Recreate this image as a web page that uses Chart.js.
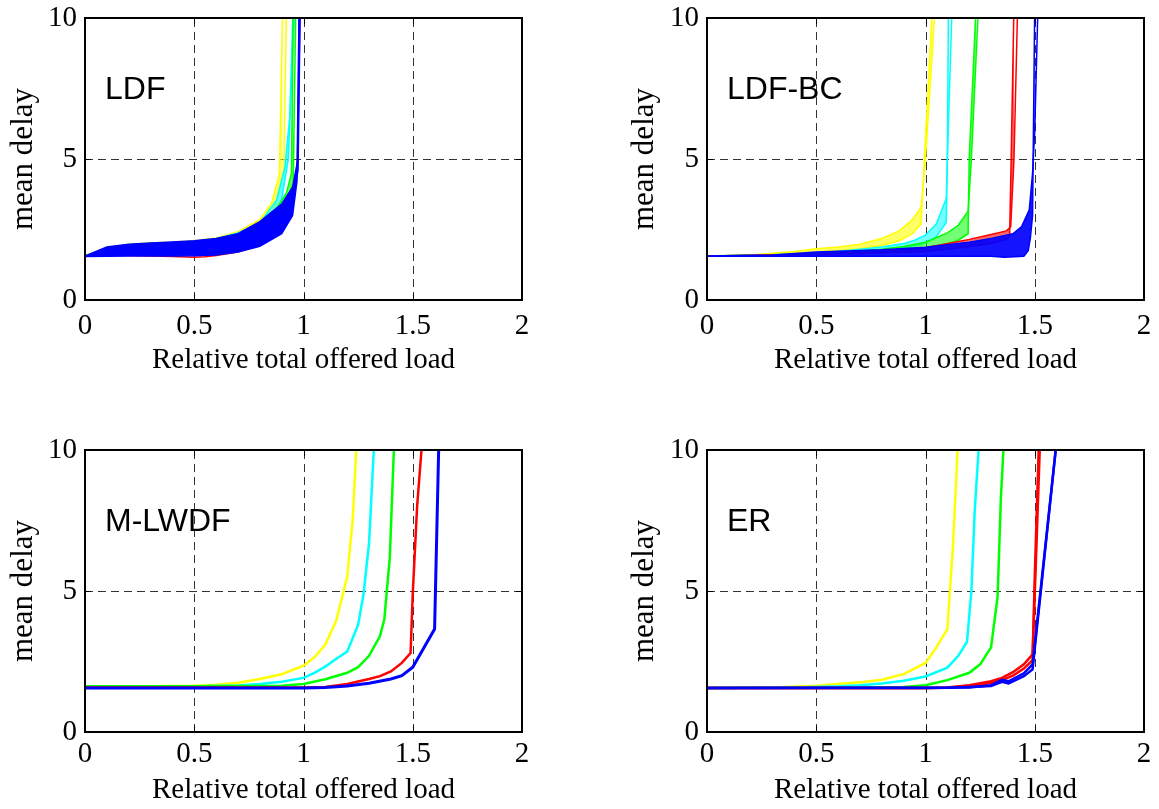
<!DOCTYPE html>
<html>
<head>
<meta charset="utf-8">
<script src="https://cdn.jsdelivr.net/npm/chart.js@4.4.1/dist/chart.umd.min.js"></script>
<style>
  html, body { margin: 0; padding: 0; background: #fff; }
  body { width: 1159px; height: 809px; position: relative; overflow: hidden; }
  canvas { position: absolute; }
</style>
</head>
<body>
<canvas id="c-ldf"></canvas>
<canvas id="c-ldfbc"></canvas>
<canvas id="c-mlwdf"></canvas>
<canvas id="c-er"></canvas>
<script>
// ===== DADOS =====
const xTicks = [0, 0.5, 1, 1.5, 2];
const yTicks = [0, 5, 10];
const xTitle = 'Relative total offered load';
const yTitle = 'mean delay';

// LDF  [load, delay]
const ldfYellowTop = [[0,1.56],[0.1,1.86],[0.2,1.98],[0.3,2.02],[0.4,2.06],[0.5,2.1],[0.6,2.2],[0.7,2.42],[0.8,2.85],[0.855,3.45],[0.89,4.5],[0.905,10.5]];
const ldfYellowBottom = [[0,1.56],[0.1,1.85],[0.2,1.96],[0.3,2.0],[0.4,2.04],[0.5,2.08],[0.6,2.17],[0.7,2.36],[0.8,2.72],[0.87,3.3],[0.91,4.6],[0.922,10.5]];
const ldfCyanTop = [[0,1.56],[0.1,1.85],[0.2,1.96],[0.3,2.0],[0.4,2.04],[0.5,2.08],[0.6,2.17],[0.7,2.38],[0.8,2.72],[0.877,3.55],[0.915,4.7],[0.937,6.5],[0.953,10.5]];
const ldfCyanBottom = [[0,1.56],[0.1,1.84],[0.2,1.95],[0.3,1.99],[0.4,2.03],[0.5,2.07],[0.6,2.15],[0.7,2.33],[0.8,2.62],[0.89,3.1],[0.93,4.97],[0.96,10.5]];
const ldfGreenTop = [[0,1.56],[0.1,1.84],[0.2,1.96],[0.3,2.0],[0.4,2.03],[0.5,2.07],[0.6,2.16],[0.7,2.34],[0.8,2.62],[0.86,3.05],[0.922,3.8],[0.945,4.5],[0.953,10.5]];
const ldfGreenBottom = [[0,1.56],[0.1,1.83],[0.2,1.95],[0.3,1.99],[0.4,2.02],[0.5,2.06],[0.6,2.14],[0.7,2.3],[0.8,2.55],[0.9,3.1],[0.953,4.15],[0.965,10.5]];
const ldfRed = [[0,1.55],[0.1,1.58],[0.2,1.58],[0.3,1.56],[0.4,1.54],[0.5,1.52],[0.55,1.53],[0.6,1.58],[0.7,1.7],[0.8,1.95],[0.9,2.5],[0.95,3.3],[0.972,4.97],[0.985,10.5]];
const ldfBlueTop = [[0,1.56],[0.1,1.88],[0.2,1.98],[0.3,2.02],[0.4,2.06],[0.5,2.1],[0.6,2.18],[0.7,2.35],[0.8,2.78],[0.9,3.4],[0.95,4.0],[0.975,5.0],[0.98,10.5]];
const ldfBlueMid = [[0,1.55],[0.1,1.7],[0.2,1.78],[0.3,1.8],[0.4,1.83],[0.5,1.85],[0.6,1.9],[0.7,2.05],[0.8,2.35],[0.9,2.85],[0.95,3.45],[0.975,4.6],[0.985,10.5]];
const ldfBlueBottom = [[0,1.54],[0.1,1.55],[0.2,1.56],[0.3,1.56],[0.4,1.56],[0.5,1.57],[0.6,1.6],[0.7,1.7],[0.8,1.9],[0.9,2.35],[0.95,3.0],[0.97,4.2],[0.98,10.5]];

// LDF-BC
const bcYellowTop = [[0,1.56],[0.2,1.6],[0.4,1.72],[0.5,1.82],[0.6,1.88],[0.7,1.98],[0.8,2.18],[0.88,2.45],[0.94,2.85],[0.98,3.3],[1.0,5.0],[1.045,10.5]];
const bcYellowBottom = [[0,1.56],[0.2,1.58],[0.4,1.64],[0.5,1.7],[0.6,1.76],[0.7,1.82],[0.8,1.93],[0.88,2.1],[0.94,2.35],[0.98,2.7],[0.995,5.0],[1.032,10.5]];
const bcCyanTop = [[0,1.56],[0.3,1.6],[0.5,1.66],[0.7,1.8],[0.8,1.88],[0.9,2.0],[0.95,2.12],[1.0,2.3],[1.05,2.7],[1.095,3.6],[1.1,5.0],[1.122,10.5]];
const bcCyanBottom = [[0,1.56],[0.3,1.57],[0.5,1.6],[0.7,1.68],[0.8,1.74],[0.9,1.84],[0.95,1.92],[1.0,2.03],[1.05,2.25],[1.095,2.75],[1.1,5.0],[1.105,10.5]];
const bcGreenTop = [[0,1.56],[0.5,1.64],[0.8,1.8],[0.9,1.9],[1.0,2.05],[1.1,2.38],[1.15,2.65],[1.195,3.15],[1.21,5.0],[1.243,10.5]];
const bcGreenBottom = [[0,1.56],[0.5,1.6],[0.8,1.7],[0.9,1.76],[1.0,1.85],[1.1,2.0],[1.15,2.12],[1.195,2.35],[1.2,5.0],[1.232,10.5]];
const bcRedTop = [[0,1.56],[0.5,1.62],[0.8,1.72],[1.0,1.85],[1.2,2.15],[1.3,2.32],[1.37,2.45],[1.39,2.6],[1.405,5.0],[1.422,10.5]];
const bcRedBottom = [[0,1.56],[0.5,1.6],[1.0,1.72],[1.2,1.9],[1.3,2.0],[1.37,2.15],[1.385,2.3],[1.392,5.0],[1.405,10.5]];
const bcBlueTop = [[0,1.56],[0.3,1.6],[0.5,1.7],[0.8,1.78],[1.0,1.87],[1.2,2.05],[1.3,2.18],[1.4,2.35],[1.44,2.6],[1.475,3.2],[1.49,4.5],[1.5,6.0],[1.515,10.5]];
const bcBlueBottom = [[0,1.55],[0.5,1.55],[1.0,1.55],[1.3,1.55],[1.36,1.52],[1.45,1.55],[1.47,1.75],[1.48,2.2],[1.49,3.0],[1.5,10.5]];

// M-LWDF
const mlYellow = [[0,1.6],[0.5,1.64],[0.6,1.68],[0.7,1.75],[0.8,1.88],[0.9,2.05],[1.0,2.35],[1.05,2.65],[1.1,3.1],[1.15,3.95],[1.2,5.5],[1.225,7.5],[1.245,10.5]];
const mlCyan = [[0,1.6],[0.5,1.62],[0.7,1.65],[0.8,1.7],[0.9,1.78],[1.0,1.92],[1.05,2.1],[1.1,2.32],[1.15,2.6],[1.2,2.85],[1.25,3.8],[1.275,4.9],[1.3,6.7],[1.325,10.5]];
const mlGreen = [[0,1.62],[0.5,1.62],[0.9,1.64],[1.0,1.7],[1.1,1.87],[1.2,2.1],[1.25,2.3],[1.3,2.7],[1.35,3.4],[1.37,4.0],[1.395,6.2],[1.416,10.5]];
const mlRed = [[0,1.58],[0.9,1.58],[1.0,1.58],[1.1,1.6],[1.2,1.7],[1.3,1.88],[1.35,1.98],[1.4,2.15],[1.45,2.45],[1.49,2.8],[1.5,4.9],[1.52,8.0],[1.545,10.5]];
const mlBlue = [[0,1.56],[1.0,1.56],[1.1,1.58],[1.2,1.63],[1.3,1.73],[1.4,1.88],[1.45,2.0],[1.5,2.3],[1.6,3.65],[1.62,10.5]];

// ER
const erYellow = [[0,1.56],[0.3,1.58],[0.5,1.64],[0.6,1.7],[0.7,1.76],[0.8,1.85],[0.9,2.05],[1.0,2.45],[1.05,3.0],[1.1,3.65],[1.125,6.5],[1.15,10.5]];
const erCyan = [[0,1.56],[0.4,1.58],[0.6,1.62],[0.7,1.66],[0.8,1.72],[0.9,1.82],[1.0,1.97],[1.1,2.28],[1.15,2.7],[1.19,3.2],[1.21,5.0],[1.225,7.8],[1.247,10.5]];
const erGreen = [[0,1.56],[0.6,1.57],[0.9,1.6],[1.0,1.66],[1.1,1.84],[1.2,2.1],[1.25,2.4],[1.3,3.0],[1.33,4.8],[1.345,8.3],[1.36,10.5]];
const erRed = [[0,1.56],[1.0,1.56],[1.1,1.58],[1.2,1.66],[1.3,1.8],[1.35,1.92],[1.4,2.12],[1.45,2.4],[1.49,2.75],[1.505,6.0],[1.525,10.5]];
const erRed2 = [[0,1.56],[1.0,1.56],[1.1,1.57],[1.2,1.63],[1.3,1.74],[1.35,1.84],[1.4,2.0],[1.45,2.25],[1.49,2.55],[1.5,5.5],[1.52,10.5]];
const erBlue = [[0,1.56],[1.0,1.56],[1.1,1.57],[1.2,1.6],[1.3,1.63],[1.35,1.78],[1.38,1.72],[1.45,1.98],[1.49,2.22],[1.6,10.3]];
const erBlue2 = [[0,1.56],[1.2,1.58],[1.3,1.66],[1.35,1.85],[1.38,1.8],[1.45,2.08],[1.49,2.4],[1.6,10.3]];

// ===== CORES =====
const AMARELO = '#ffff00', CIANO = '#00ffff', VERDE = '#00ff00', VERMELHO = '#ff0000', AZUL = '#0000ff';

function linha(pts, cor, largura, fill) {
  return {
    data: pts.map(([x, y]) => ({ x, y })),
    borderColor: cor,
    backgroundColor: cor,
    borderWidth: largura,
    pointRadius: 0,
    tension: 0,
    fill: fill === undefined ? false : fill,
    clip: 0
  };
}

// feixe: linha de cima com preenchimento ate a de baixo
function feixe(lista, cima, baixo, cor, fundo, largura) {
  const idx = lista.length;
  const d = linha(cima, cor, largura, idx + 1);
  d.backgroundColor = fundo;
  lista.push(d);
  lista.push(linha(baixo, cor, largura));
}

// ===== PAINEIS =====
// azul primeiro = desenhado por cima
const dsLdf = [];
feixe(dsLdf, ldfBlueTop, ldfBlueBottom, AZUL, AZUL, 1.5);
dsLdf.push(linha(ldfBlueMid, AZUL, 1.5));
dsLdf.push(linha(ldfRed, VERMELHO, 1.5));
feixe(dsLdf, ldfGreenTop, ldfGreenBottom, VERDE, 'rgba(0,255,0,0.6)', 1.5);
feixe(dsLdf, ldfCyanTop, ldfCyanBottom, CIANO, 'rgba(0,255,255,0.6)', 1.5);
feixe(dsLdf, ldfYellowTop, ldfYellowBottom, AMARELO, 'rgba(255,255,0,0.6)', 1.5);

const dsBc = [];
feixe(dsBc, bcBlueTop, bcBlueBottom, AZUL, 'rgba(0,0,255,0.92)', 1.5);
feixe(dsBc, bcRedTop, bcRedBottom, VERMELHO, 'rgba(255,0,0,0.6)', 1.5);
feixe(dsBc, bcGreenTop, bcGreenBottom, VERDE, 'rgba(0,255,0,0.55)', 1.5);
feixe(dsBc, bcCyanTop, bcCyanBottom, CIANO, 'rgba(0,255,255,0.55)', 1.5);
feixe(dsBc, bcYellowTop, bcYellowBottom, AMARELO, 'rgba(255,255,0,0.6)', 1.5);

const dsMl = [
  linha(mlBlue, AZUL, 3),
  linha(mlRed, VERMELHO, 2.5),
  linha(mlGreen, VERDE, 2.5),
  linha(mlCyan, CIANO, 2.5),
  linha(mlYellow, AMARELO, 2.5)
];

const dsEr = [
  linha(erBlue, AZUL, 2.5),
  linha(erBlue2, AZUL, 2.5),
  linha(erRed, VERMELHO, 2.5),
  linha(erRed2, VERMELHO, 2.5),
  linha(erGreen, VERDE, 2.5),
  linha(erCyan, CIANO, 2.5),
  linha(erYellow, AMARELO, 2.5)
];

const paineis = [
  { id: 'c-ldf',   nome: 'LDF',    ds: dsLdf, left: 0,   top: 0,   w: 580, h: 405, area: [85, 18, 522, 300],   tickPad: 9, titlePad: 27, yTitlePad: 5 },
  { id: 'c-ldfbc', nome: 'LDF-BC', ds: dsBc,  left: 580, top: 0,   w: 579, h: 405, area: [707, 18, 1144, 300], tickPad: 9, titlePad: 27, yTitlePad: 46 },
  { id: 'c-mlwdf', nome: 'M-LWDF', ds: dsMl,  left: 0,   top: 405, w: 580, h: 404, area: [85, 450, 522, 732],  tickPad: 5, titlePad: 1,  yTitlePad: 5 },
  { id: 'c-er',    nome: 'ER',     ds: dsEr,  left: 580, top: 405, w: 579, h: 404, area: [707, 450, 1144, 732], tickPad: 5, titlePad: 1,  yTitlePad: 46 }
];

Chart.defaults.font.family = '"Liberation Serif", "Times New Roman", serif';
Chart.defaults.font.size = 29;
Chart.defaults.color = '#000';

// grade tracejada, moldura e rotulo do painel
const moldura = {
  id: 'moldura',
  beforeDatasetsDraw(chart) {
    const { ctx, chartArea: a, scales: { x, y } } = chart;
    ctx.save();
    ctx.strokeStyle = '#333';
    ctx.lineWidth = 1;
    ctx.setLineDash([8, 5]);
    xTicks.slice(1, -1).forEach(v => {
      const px = Math.round(x.getPixelForValue(v)) + 0.5;
      ctx.beginPath(); ctx.moveTo(px, a.bottom); ctx.lineTo(px, a.top); ctx.stroke();
    });
    yTicks.slice(1, -1).forEach(v => {
      const py = Math.round(y.getPixelForValue(v)) + 0.5;
      ctx.beginPath(); ctx.moveTo(a.left, py); ctx.lineTo(a.right, py); ctx.stroke();
    });
    ctx.restore();
  },
  afterDatasetsDraw(chart) {
    const { ctx, chartArea: a, scales: { x, y } } = chart;
    ctx.save();
    ctx.setLineDash([]);
    ctx.strokeStyle = '#000';
    ctx.lineWidth = 2;
    ctx.strokeRect(a.left, a.top, a.right - a.left, a.bottom - a.top);
    ctx.lineWidth = 1;
    ctx.beginPath();
    xTicks.forEach(v => {
      const px = Math.round(x.getPixelForValue(v)) + 0.5;
      ctx.moveTo(px, a.bottom); ctx.lineTo(px, a.bottom - 6);
      ctx.moveTo(px, a.top); ctx.lineTo(px, a.top + 6);
    });
    yTicks.forEach(v => {
      const py = Math.round(y.getPixelForValue(v)) + 0.5;
      ctx.moveTo(a.left, py); ctx.lineTo(a.left + 6, py);
      ctx.moveTo(a.right, py); ctx.lineTo(a.right - 6, py);
    });
    ctx.stroke();
    ctx.restore();
  },
  afterDraw(chart) {
    const { ctx, chartArea: a } = chart;
    ctx.save();
    ctx.font = '32px "Liberation Sans", Arial, sans-serif';
    ctx.fillStyle = '#000';
    ctx.textBaseline = 'alphabetic';
    ctx.fillText(chart.options.plugins.moldura.nome, a.left + 20, a.top + 81);
    ctx.restore();
  }
};

paineis.forEach(p => {
  const cv = document.getElementById(p.id);
  cv.width = p.w; cv.height = p.h;
  cv.style.left = p.left + 'px'; cv.style.top = p.top + 'px';
  const [L, T, R, B] = p.area;

  new Chart(cv, {
    type: 'line',
    data: { datasets: p.ds },
    options: {
      responsive: false,
      animation: false,
      events: [],
      layout: { padding: { left: 0, top: T - p.top, right: p.left + p.w - R, bottom: 0 } },
      plugins: { legend: { display: false }, tooltip: { enabled: false }, moldura: { nome: p.nome } },
      scales: {
        x: {
          type: 'linear', min: 0, max: 2,
          grid: { display: false, drawTicks: false },
          border: { display: false },
          afterBuildTicks: s => { s.ticks = xTicks.map(v => ({ value: v })); },
          afterFit: s => { s.height = p.top + p.h - B; s.paddingLeft = 0; s.paddingRight = 0; },
          ticks: { padding: p.tickPad, maxRotation: 0, autoSkip: false, color: '#000', callback: v => String(v) },
          title: { display: true, text: xTitle, color: '#000', padding: { top: 0, bottom: p.titlePad } }
        },
        y: {
          type: 'linear', min: 0, max: 10,
          grid: { display: false, drawTicks: false },
          border: { display: false },
          afterBuildTicks: s => { s.ticks = yTicks.map(v => ({ value: v })); },
          afterFit: s => { s.width = L - p.left; s.paddingTop = 0; s.paddingBottom = 0; },
          ticks: { padding: 8, color: '#000', callback: v => String(v) },
          title: { display: true, text: yTitle, color: '#000', font: { size: 31 }, padding: { top: p.yTitlePad, bottom: 0 } }
        }
      }
    },
    plugins: [moldura]
  });
});
</script>
</body>
</html>
